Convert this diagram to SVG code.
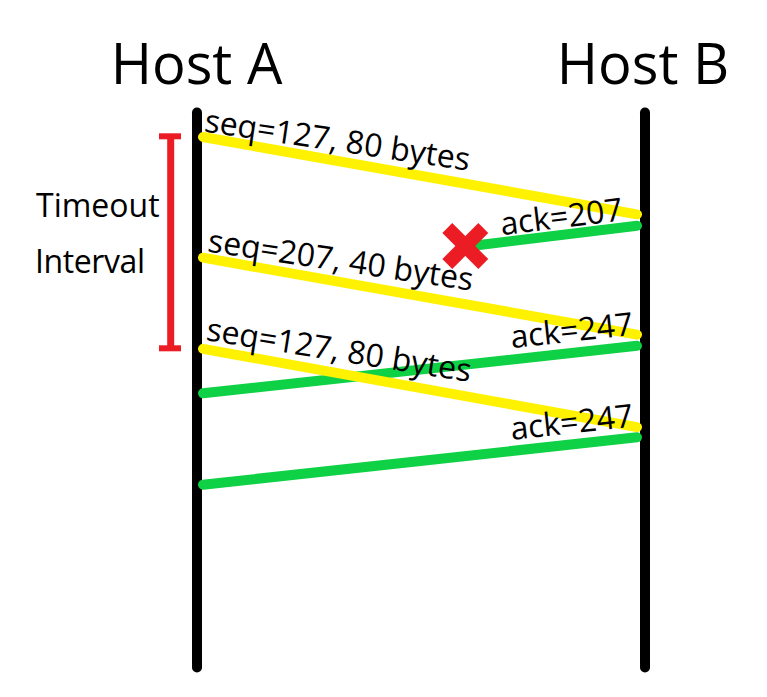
<svg xmlns="http://www.w3.org/2000/svg" width="767" height="697" viewBox="0 0 767 697">
<style>
text{font-family:"Open Sans","Noto Sans","DejaVu Sans",sans-serif;fill:#000}
.host{font-size:56px;text-anchor:middle}
.lbl{font-size:32px}
.side{font-size:32px}
.life{stroke:#000;stroke-width:10;stroke-linecap:round;fill:none}
.seg{stroke:#fff200;stroke-width:10;stroke-linecap:round;fill:none}
.ack{stroke:#0ed145;stroke-width:10;stroke-linecap:round;fill:none}
.red{fill:#ec1c24}
.x{stroke:#ec1c24;stroke-width:14;stroke-linecap:butt}
</style>
<rect width="767" height="697" fill="#fff"/>
<g id="hostA">
<line class="life" x1="197" y1="112.5" x2="197" y2="667.5"/>
<text class="host" x="196.5" y="84">Host A</text>
</g>
<g id="hostB">
<line class="life" x1="645" y1="112.5" x2="645" y2="667.5"/>
<text class="host" x="643" y="84">Host B</text>
</g>
<g id="timeout">
<rect class="red" x="167.2" y="136" width="7" height="212"/>
<rect class="red" x="159" y="133.3" width="22" height="6"/>
<rect class="red" x="159" y="345.3" width="22" height="6"/>
<text class="side" x="36" y="216.7">Timeout</text>
<text class="side" x="35" y="273.3" textLength="110">Interval</text>
</g>
<g id="connectors">
<line class="ack" x1="637" y1="225.7" x2="465.3" y2="246.8"/>
<line class="seg" x1="203" y1="257.7" x2="637" y2="334.7"/>
<line class="ack" x1="637" y1="345.8" x2="203" y2="393.3"/>
<line class="seg" x1="203" y1="348.8" x2="637" y2="427.2"/>
<line class="ack" x1="637" y1="437.3" x2="203" y2="484.7"/>
<line class="seg" x1="203" y1="137" x2="637" y2="214.3"/>
</g>
<g id="loss">
<line class="x" x1="447.3" y1="228" x2="483.3" y2="264"/>
<line class="x" x1="483.3" y1="228" x2="447.3" y2="264"/>
</g>
<g id="labels">
<text class="lbl" transform="translate(203.5,131.5) rotate(8.4)">seq=127, 80 bytes</text>
<text class="lbl" transform="translate(206.8,251.5) rotate(8.4)">seq=207, 40 bytes</text>
<text class="lbl" transform="translate(205.2,340) rotate(9)">seq=127, 80 bytes</text>
<text class="lbl" transform="translate(501.7,235.2) rotate(-7)">ack=207</text>
<text class="lbl" transform="translate(511.7,348.3) rotate(-6.3)">ack=247</text>
<text class="lbl" transform="translate(511.7,440) rotate(-6.3)">ack=247</text>
</g>
</svg>
